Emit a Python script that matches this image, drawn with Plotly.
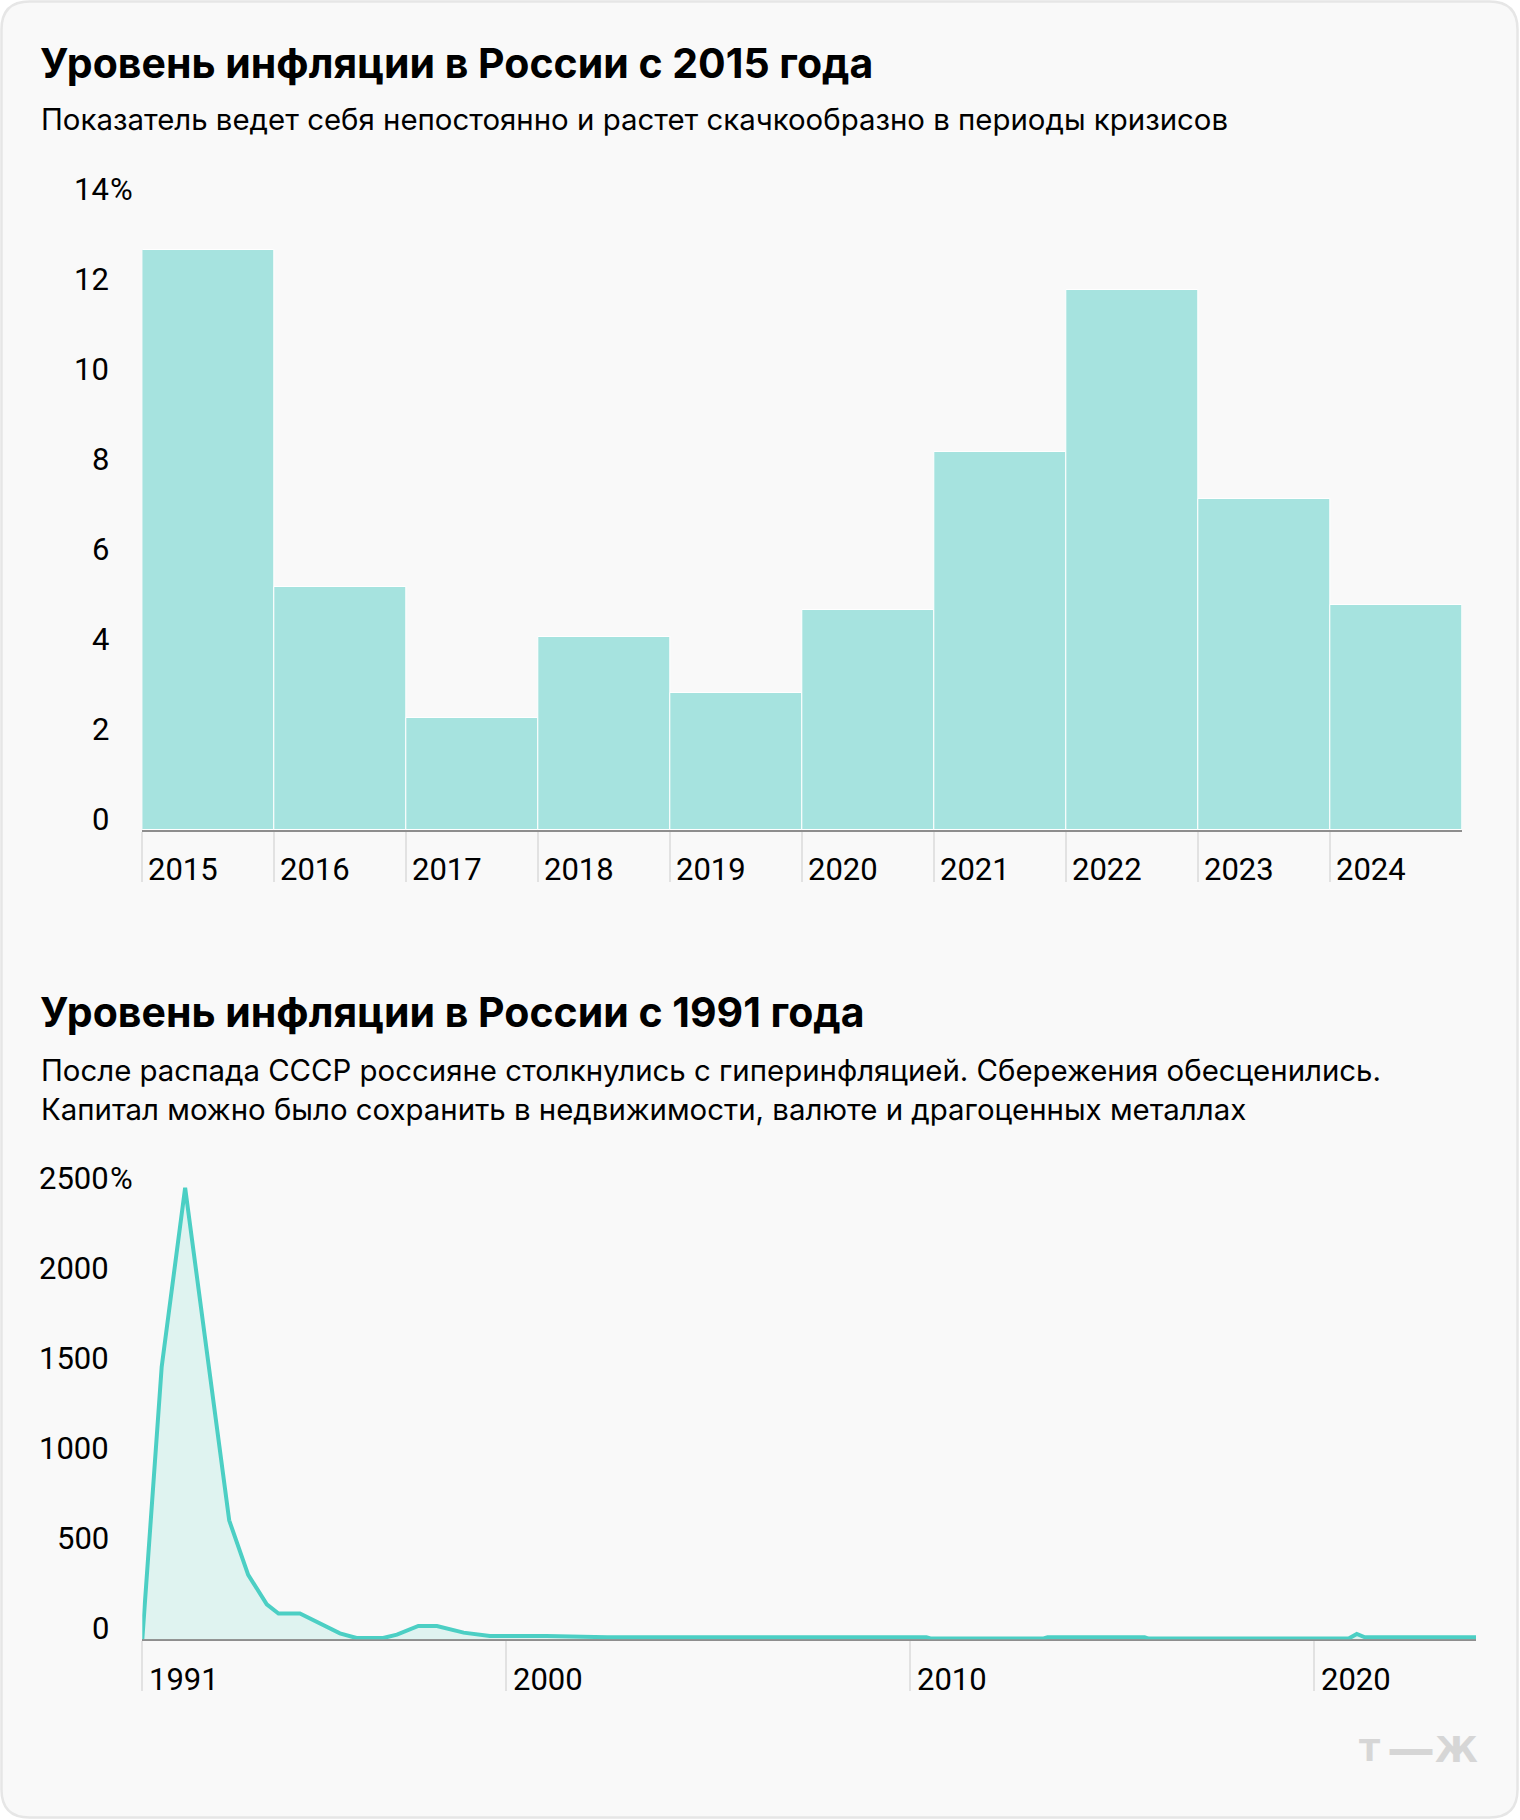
import plotly.graph_objects as go

# ---------------- data ----------------
bar_years = [2015, 2016, 2017, 2018, 2019, 2020, 2021, 2022, 2023, 2024]
bar_values = [12.9, 5.4, 2.5, 4.3, 3.05, 4.9, 8.4, 12.0, 7.35, 5.0]
bar_ticks = [0, 2, 4, 6, 8, 10, 12, 14]

line_years = [1991.0, 1991.48, 1992.06, 1993.15, 1993.62, 1994.08, 1994.37, 1994.9,
              1995.89, 1996.3, 1996.96, 1997.3, 1997.83, 1998.29, 1998.95, 1999.6,
              2001.0, 2002.5, 2010.4, 2010.5, 2013.3, 2013.4, 2015.8, 2015.9,
              2020.85, 2021.05, 2021.25, 2024.0]
line_values = [0, 1515, 2509, 661, 358, 194, 143, 143,
               33, 7, 7, 26, 74, 74, 37, 18,
               18, 12, 12, 5, 5, 11, 11, 4,
               4, 30, 11, 11]
line_ticks = [0, 500, 1000, 1500, 2000, 2500]
line_xticks = [1991, 2000, 2010, 2020]

title1 = "Уровень инфляции в России с 2015 года"
sub1 = "Показатель ведет себя непостоянно и растет скачкообразно в периоды кризисов"
title2 = "Уровень инфляции в России с 1991 года"
sub2a = "После распада СССР россияне столкнулись с гиперинфляцией. Сбережения обесценились."
sub2b = "Капитал можно было сохранить в недвижимости, валюте и драгоценных металлах"

# ---------------- geometry helpers ----------------
W, H = 1520, 1820
def px(x):
    return x / W
def py(y):
    return 1 - y / H

FONT = "Inter"
NUMFONT = "Roboto"
BAR_COLOR = "#a6e3df"
LINE_COLOR = "#4ccfc4"
FILL_COLOR = "#dff3f0"
AXIS_COLOR = "#8e8e8e"
TICK_COLOR = "#e2e2e2"
CARD = "#f9f9f9"

fig = go.Figure()

fig.add_trace(go.Bar(
    x=bar_years, y=bar_values, width=1,
    marker=dict(color=BAR_COLOR, line=dict(color="white", width=1)),
    xaxis="x", yaxis="y", hoverinfo="skip", showlegend=False,
))

fig.add_trace(go.Scatter(
    x=line_years, y=line_values, mode="lines",
    line=dict(color=LINE_COLOR, width=4),
    fill="tozeroy", fillcolor=FILL_COLOR,
    xaxis="x2", yaxis="y2", hoverinfo="skip", showlegend=False,
))

# axes
top_y0, top_y1 = 830, 200          # pixel rows of 0 and 14
bot_y0 = 1639.3
bot_ppu = (1639.3 - 1189.4) / 2500.0
bot_max = 2530
bot_y1 = bot_y0 - bot_max * bot_ppu

fig.update_layout(
    width=W, height=H,
    margin=dict(l=0, r=0, t=0, b=0),
    paper_bgcolor="white", plot_bgcolor="rgba(0,0,0,0)",
    bargap=0,
    xaxis=dict(domain=[px(142.3), px(1462)], range=[2014.5, 2024.5],
               showline=True, linecolor=AXIS_COLOR, linewidth=2,
               ticks="outside", ticklen=50, tickwidth=1.5, tickcolor=TICK_COLOR,
               tickvals=[y - 0.5 for y in bar_years], showticklabels=False,
               showgrid=False, zeroline=False, fixedrange=True),
    yaxis=dict(domain=[py(top_y0), py(top_y1)], range=[0, 14],
               showticklabels=False, showgrid=False, zeroline=False,
               showline=False, fixedrange=True),
    xaxis2=dict(domain=[px(142.3), px(1476)], range=[1991, 2024], anchor="y2",
                showline=True, linecolor=AXIS_COLOR, linewidth=2, layer="below traces",
                ticks="outside", ticklen=50, tickwidth=1.5, tickcolor=TICK_COLOR,
                tickvals=line_xticks, showticklabels=False,
                showgrid=False, zeroline=False, fixedrange=True),
    yaxis2=dict(domain=[py(bot_y0), py(bot_y1)], range=[0, bot_max], anchor="x2",
                showticklabels=False, showgrid=False, zeroline=False,
                showline=False, fixedrange=True),
    font=dict(family=FONT, color="#000"),
)

# card background (rounded rectangle)
x0, x1, y0, y1, r = 1.5, 1517.5, 1.5, 1817.5, 28
rx, ry = r / W, r / H
X0, X1, Y0, Y1 = px(x0), px(x1), py(y1), py(y0)
path = (f"M {X0+rx},{Y1} L {X1-rx},{Y1} Q {X1},{Y1} {X1},{Y1-ry} "
        f"L {X1},{Y0+ry} Q {X1},{Y0} {X1-rx},{Y0} L {X0+rx},{Y0} "
        f"Q {X0},{Y0} {X0},{Y0+ry} L {X0},{Y1-ry} Q {X0},{Y1} {X0+rx},{Y1} Z")
fig.add_shape(type="path", path=path, xref="paper", yref="paper",
              fillcolor=CARD, line=dict(color="#e6e6e6", width=2.5), layer="below")

ann = []
def text(t, x, y, size, weight=400, color="#000", xanchor="left", yanchor="middle",
         xref="paper", yref="paper", xshift=0, yshift=0, family=FONT):
    ann.append(dict(text=t, x=x, y=y, xref=xref, yref=yref, xanchor=xanchor,
                    yanchor=yanchor, showarrow=False, xshift=xshift, yshift=yshift,
                    font=dict(family=family, size=size, color=color, weight=weight)))

# titles
text(title1, px(38), py(63), 41, weight=700)
text(sub1, px(39), py(120), 29.4)
text(title2, px(38), py(1012), 41, weight=700)
text(sub2a, px(39), py(1070), 29.4)
text(sub2b, px(39), py(1109), 29.4)

# top y labels
for v in bar_ticks:
    text(str(v), px(111), v, 31, xanchor="right", yanchor="bottom", yref="y",
         yshift=-10, family=NUMFONT)
text("%", px(111), bar_ticks[-1], 31, xanchor="left", yanchor="bottom", yref="y",
     yshift=-10, xshift=-3, family=NUMFONT)
# top x labels
for yr in bar_years:
    text(str(yr), yr - 0.5, py(869), 31, xref="x", xshift=4, family=NUMFONT)

# bottom y labels
for v in line_ticks:
    text(str(v), px(111), v, 31, xanchor="right", yanchor="bottom", yref="y2",
         yshift=-10, family=NUMFONT)
text("%", px(111), line_ticks[-1], 31, xanchor="left", yanchor="bottom", yref="y2",
     yshift=-10, xshift=-3, family=NUMFONT)
# bottom x labels
for yr in line_xticks:
    text(str(yr), yr, py(1679), 31, xref="x2", xshift=5, family=NUMFONT)

# logo
LOGO = "#d6d6d6"
text("Т", px(1357), py(1750), 31, weight=900, color=LOGO, family="DejaVu Sans")
text("—", px(1385), py(1748), 48, weight=900, color=LOGO, family="DejaVu Sans")
text("Ж", px(1433), py(1750), 35, weight=900, color=LOGO, family="DejaVu Sans")

fig.update_layout(annotations=ann)

fig.write_html("out.html", config={"displayModeBar": False},
               post_script="document.body.style.margin='0';document.body.style.overflow='hidden';")
